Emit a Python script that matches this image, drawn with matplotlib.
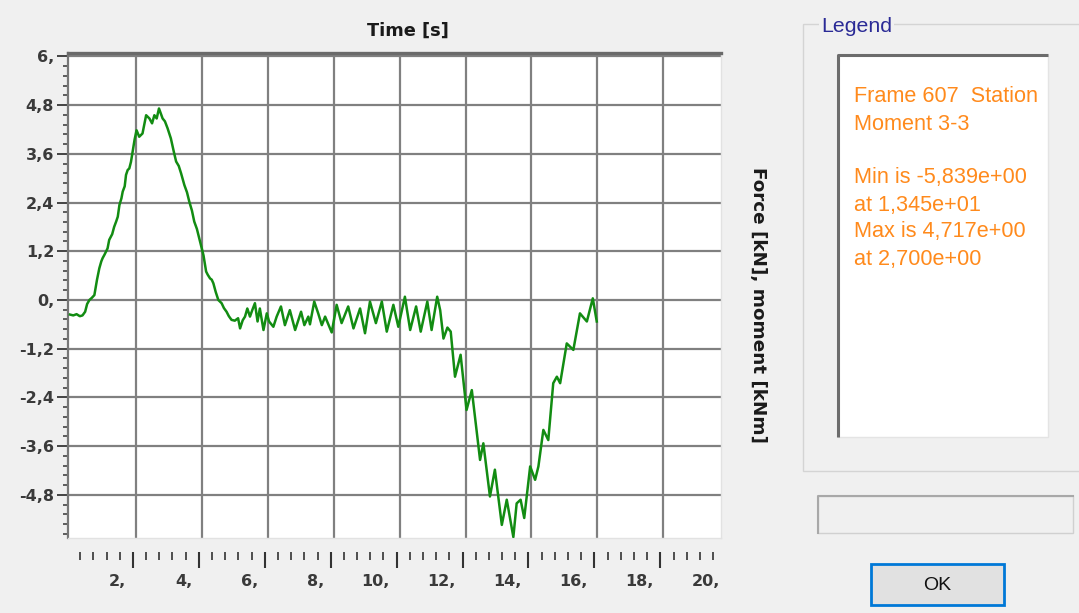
import matplotlib
matplotlib.use("Agg")
import matplotlib.pyplot as plt
import numpy as np
from matplotlib.patches import Rectangle
from matplotlib.ticker import MultipleLocator

# Frame 607 - moment 3-3 time history
time_s = [0.00, 0.10, 0.20, 0.30, 0.38, 0.46, 0.52, 0.59, 0.66, 0.74,
          0.82, 0.89, 0.95, 0.99, 1.05, 1.14, 1.19, 1.28, 1.34, 1.40,
          1.45, 1.50, 1.56, 1.60, 1.66, 1.70, 1.75, 1.80, 1.85, 1.90,
          1.96, 2.02, 2.10, 2.20, 2.31, 2.41, 2.49, 2.56, 2.63, 2.70,
          2.81, 2.88, 2.96, 3.06, 3.15, 3.22, 3.30, 3.37, 3.47, 3.55,
          3.62, 3.70, 3.77, 3.85, 3.92, 4.00, 4.05, 4.13, 4.18, 4.25,
          4.30, 4.35, 4.42, 4.50, 4.60, 4.67, 4.75, 4.82, 4.90, 5.00,
          5.10, 5.16, 5.24, 5.31, 5.38, 5.46, 5.53, 5.61, 5.69, 5.76,
          5.87, 5.97, 6.04, 6.17, 6.27, 6.40, 6.52, 6.67, 6.83, 7.01,
          7.11, 7.23, 7.28, 7.41, 7.53, 7.64, 7.74, 7.94, 8.09, 8.24,
          8.44, 8.60, 8.80, 8.95, 9.10, 9.28, 9.46, 9.61, 9.81, 9.96,
          10.16, 10.32, 10.50, 10.64, 10.84, 10.97, 11.14, 11.23, 11.33, 11.45,
          11.55, 11.68, 11.85, 12.03, 12.19, 12.44, 12.54, 12.74, 12.89, 13.10,
          13.25, 13.45, 13.55, 13.67, 13.78, 13.96, 14.11, 14.21, 14.36, 14.51,
          14.66, 14.77, 14.87, 15.07, 15.27, 15.47, 15.68, 15.86, 15.98]
moment = [-0.36, -0.38, -0.35, -0.40, -0.38, -0.29, -0.10, 0.00, 0.05, 0.12,
          0.50, 0.78, 0.95, 1.03, 1.12, 1.27, 1.48, 1.62, 1.80, 1.93,
          2.05, 2.34, 2.50, 2.67, 2.80, 3.08, 3.20, 3.24, 3.40, 3.65,
          3.95, 4.18, 4.02, 4.10, 4.55, 4.47, 4.35, 4.55, 4.47, 4.717,
          4.47, 4.40, 4.23, 3.98, 3.65, 3.41, 3.30, 3.12, 2.83, 2.65,
          2.42, 2.20, 1.93, 1.75, 1.52, 1.25, 1.10, 0.70, 0.62, 0.53,
          0.50, 0.41, 0.20, 0.00, -0.08, -0.20, -0.29, -0.40, -0.49, -0.51,
          -0.45, -0.70, -0.50, -0.41, -0.21, -0.41, -0.25, -0.08, -0.53, -0.21,
          -0.74, -0.33, -0.53, -0.66, -0.41, -0.16, -0.62, -0.25, -0.74, -0.29,
          -0.62, -0.41, -0.60, -0.04, -0.33, -0.62, -0.41, -0.80, -0.12, -0.57,
          -0.16, -0.70, -0.21, -0.82, -0.04, -0.57, -0.04, -0.78, -0.12, -0.66,
          0.08, -0.74, -0.16, -0.78, -0.04, -0.74, 0.08, -0.25, -0.95, -0.68,
          -0.78, -1.89, -1.35, -2.71, -2.22, -3.94, -3.53, -4.84, -4.18, -5.54,
          -4.92, -5.839, -5.01, -4.92, -5.37, -4.10, -4.43, -4.10, -3.20, -3.45,
          -2.05, -1.89, -2.05, -1.07, -1.23, -0.33, -0.53, 0.04, -0.53]

y_ticks = [-4.8, -3.6, -2.4, -1.2, 0.0, 1.2, 2.4, 3.6, 4.8, 6.0]
y_labels = ["-4,8", "-3,6", "-2,4", "-1,2", "0,", "1,2", "2,4", "3,6", "4,8", "6,"]
x_ruler_major = [2, 4, 6, 8, 10, 12, 14, 16, 18, 20]
x_labels = ["2,", "4,", "6,", "8,", "10,", "12,", "14,", "16,", "18,", "20,"]

W, H = 1079, 613
BG = "#f0f0f0"
plt.rcParams["font.family"] = ["Liberation Sans", "DejaVu Sans"]
AXFONT = dict(family="DejaVu Sans", fontweight="bold")

fig = plt.figure(figsize=(W / 100, H / 100), dpi=100, facecolor=BG)


def box(x0, y0, x1, y1):
    # pixel box (top-left origin) -> figure fraction rect
    return [x0 / W, 1 - y1 / H, (x1 - x0) / W, (y1 - y0) / H]


# window furniture drawn in pixel coordinates
bg = fig.add_axes([0, 0, 1, 1], zorder=0)
bg.set_xlim(0, W)
bg.set_ylim(H, 0)
bg.axis("off")

bg.text(408, 31, "Time [s]", ha="center", va="center", fontsize=12.8,
        color="#1a1a1a", **AXFONT)
bg.text(758, 305, "Force [kN], moment [kNm]", ha="center", va="center",
        rotation=270, fontsize=13.2, color="#1a1a1a", **AXFONT)

# legend group box
bg.add_patch(Rectangle((803, 24), 300, 447, fill=False, ec="#d4d4d4", lw=1))
bg.text(821, 27, "Legend", ha="left", va="center", fontsize=15.3, color="#2a2a96",
        bbox=dict(fc=BG, ec="none", pad=1.5))
bg.add_patch(Rectangle((838, 55), 210, 382, fc="white", ec="#e4e4e4", lw=1))
bg.plot([838, 838, 1048], [437, 55, 55], color="#6c6c6c", lw=2.2,
        solid_capstyle="butt")

i_min = int(np.argmin(moment))
i_max = int(np.argmax(moment))


def sci(v):
    return f"{v:.3e}".replace(".", ",")


legend_lines = ["Frame 607  Station", "Moment 3-3", "",
                f"Min is {sci(moment[i_min])}", f"at {sci(time_s[i_min])}",
                f"Max is {sci(moment[i_max])}", f"at {sci(time_s[i_max])}"]
for i, line in enumerate(legend_lines):
    bg.text(854, 97 + i * 27, line, ha="left", va="center", fontsize=15.6,
            color="#ff8a1c")

# status field and OK button
bg.add_patch(Rectangle((818, 496), 255, 37, fc=BG, ec="#d0d0d0", lw=1))
bg.plot([818, 818, 1073], [533, 496, 496], color="#a8a8a8", lw=1.5)
bg.add_patch(Rectangle((871, 564), 133, 41, fc="#e1e1e1", ec="#0078d7", lw=2))
bg.text(937.5, 585, "OK", ha="center", va="center", fontsize=14, color="#111111")

# plot area
ax = fig.add_axes(box(68, 52.7, 720.7, 538.3), zorder=1)
ax.set_facecolor("white")
ax.plot(time_s, moment, color="#128c12", lw=1.8, zorder=3,
        solid_joinstyle="round")
ax.set_xlim(-0.06, 19.74)
ax.set_ylim(-5.87, 6.09)

ax.set_xticks(np.arange(2, 19, 2))
ax.set_yticks(y_ticks)
ax.set_yticklabels(y_labels, **AXFONT)
ax.yaxis.set_minor_locator(MultipleLocator(0.24))
ax.grid(True, color="#808080", lw=1.6)
ax.set_axisbelow(True)
ax.tick_params(axis="x", length=0, labelbottom=False)
ax.tick_params(axis="y", which="major", direction="out", length=8, width=1.4,
               color="#444444", pad=2, labelsize=11.5, labelcolor="#3a3a3a")
ax.tick_params(axis="y", which="minor", direction="out", length=3.5,
               width=1.2, color="#444444")
ax.spines["top"].set_color("#6a6a6a")
ax.spines["top"].set_linewidth(2.4)
ax.spines["left"].set_color("#777777")
ax.spines["left"].set_linewidth(1.6)
for side in ("right", "bottom"):
    ax.spines[side].set_color("#e2e2e2")
    ax.spines[side].set_linewidth(1)

# time ruler under the plot
rul = fig.add_axes(box(65, 552, 717.7, 598), zorder=1)
rul.set_xlim(-0.06, 19.74)
rul.set_ylim(46, 0)
rul.patch.set_visible(False)
for s in rul.spines.values():
    s.set_visible(False)
rul.set_xticks(x_ruler_major[:-1])
rul.set_xticks(np.arange(0.4, 19.7, 0.4), minor=True)
rul.set_yticks([])
rul.tick_params(axis="x", which="major", bottom=False, top=True, direction="in",
                length=11.5, width=1.5, color="#333333", labelbottom=False)
rul.tick_params(axis="x", which="minor", bottom=False, top=True, direction="in",
                length=5.5, width=1.2, color="#333333")
for t, lab in zip(x_ruler_major, x_labels):
    rul.text(t - 0.2, 30, lab, ha="right", va="center", fontsize=11.5,
             color="#3a3a3a", clip_on=False, **AXFONT)

fig.savefig("out.png", dpi=100, facecolor=BG)
